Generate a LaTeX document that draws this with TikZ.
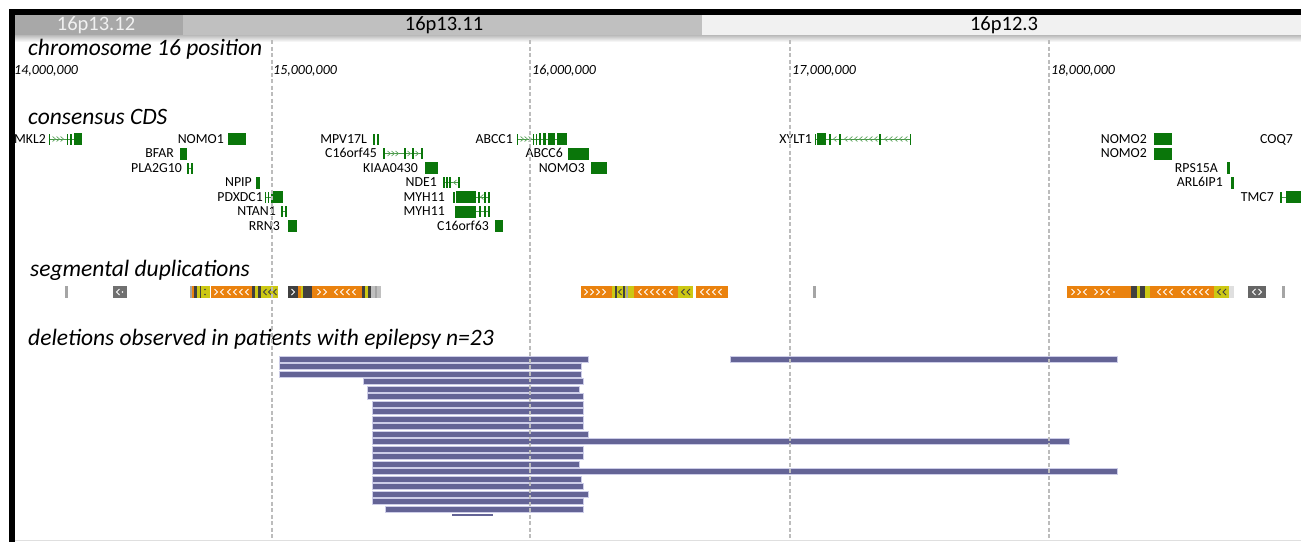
\documentclass[tikz,border=0pt]{standalone}
\usepackage{fontspec}
\setmainfont{Carlito}
\definecolor{gene}{RGB}{10,118,10}
\definecolor{sdor}{RGB}{234,130,14}
\definecolor{sdye}{RGB}{204,200,20}
\definecolor{sddk}{RGB}{64,64,64}
\definecolor{sdgr}{RGB}{165,165,165}
\definecolor{delf}{RGB}{100,100,150}
\definecolor{delo}{RGB}{205,205,232}
\definecolor{bandA}{RGB}{168,168,168}
\definecolor{bandB}{RGB}{192,192,192}
\definecolor{bandC}{RGB}{241,241,241}
\definecolor{gridc}{RGB}{188,188,188}
\newcommand\GB[3]{\fill[gene] (#1,#3-6) rectangle (#2,#3+6);}
\newcommand\GT[2]{\fill[gene] (#1-0.7,#2-5.5) rectangle (#1+0.7,#2+5.5);}
\newcommand\GL[3]{\draw[gene!75, line width=0.9] (#1,#3) -- (#2,#3);}
\newcommand\GC[3]{\draw[gene!65, line width=0.7] (#1-1.4*#3,#2-2.5) -- (#1+1.4*#3,#2) -- (#1-1.4*#3,#2+2.5);}
\newcommand\SD[3]{\fill[#3] (#1,286) rectangle (#2,298);}
\newcommand\SC[3]{\draw[#3, line width=0.8] (#1-1.5*#2,289) -- (#1+1.5*#2,292) -- (#1-1.5*#2,295);}
\newcommand\DL[3]{\draw[delbar] (#1,#3-3) rectangle (#2,#3+3);}
\begin{document}
\begin{tikzpicture}[x=1pt,y=-1pt,
  sect/.style={font=\fontsize{23.5}{23.5}\selectfont\itshape, anchor=base west, inner sep=0pt},
  axl/.style={font=\fontsize{14}{14}\selectfont\itshape, anchor=base west, inner sep=0pt},
  glbl/.style={font=\fontsize{13.8}{13.8}\selectfont, anchor=base east, inner sep=0pt},
  band/.style={font=\fontsize{20.5}{20.5}\selectfont, anchor=center, inner sep=0pt},
  delbar/.style={fill=delf, draw=delo, line width=0.6},
  gridline/.style={draw=gridc, line width=1.1, dash pattern=on 4pt off 2.5pt}]
\useasboundingbox (0,0) rectangle (1301,542);
\fill[white] (0,0) rectangle (1301,542);
% frame and band
\fill[bandA] (15,15) rectangle (183,35);
\fill[bandB] (183,15) rectangle (702,35);
\fill[bandC] (702,15) rectangle (1301,35);
\shade[top color=gray!55, bottom color=white] (15,35) rectangle (1301,42);
\fill[black] (9,9) rectangle (1301,15);
\fill[black] (9,9) rectangle (15,542);
\draw[gray!25, line width=1] (15,540.5) -- (1301,540.5);
\node[band, text=bandC] (b1) at (96,25) {16p13.12};
\node[band] (b2) at (444,25) {16p13.11};
\node[band] (b3) at (1004,25) {16p12.3};
% section titles
\node[sect] (t1) at (28,55) {chromosome 16 position};
\node[sect] (t2) at (28,124) {consensus CDS};
\node[sect] (t3) at (30,276) {segmental duplications};
\node[sect] (t4) at (28,345) {deletions observed in patients with epilepsy n=23};
% axis labels
\node[axl] (a14) at (14,74) {14,000,000};
\node[axl] (a15) at (273,74) {15,000,000};
\node[axl] (a16) at (532,74) {16,000,000};
\node[axl] (a17) at (792,74) {17,000,000};
\node[axl] (a18) at (1051,74) {18,000,000};
% ---- genes ----
\node[glbl] (gMKL2) at (46,143.3) {MKL2};
\GL{49}{74}{139}\GT{49.5}{139}\GC{54}{139}{1}\GC{58}{139}{1}\GC{62}{139}{1}\GT{67.5}{139}\GT{71}{139}\GB{74}{82}{139}
\node[glbl] (gNOMO1) at (224,143.3) {NOMO1};
\GB{228}{246}{139}
\node[glbl] (gBFAR) at (174,157.8) {BFAR};
\GB{180}{187}{153.5}
\node[glbl] (gPLA) at (182,172.3) {PLA2G10};
\GL{188}{192}{168}\GT{188}{168}\GT{192}{168}
\node[glbl] (gNPIP) at (252,186.8) {NPIP};
\GB{256}{260}{182.5}
\node[glbl] (gPDX) at (263,201.3) {PDXDC1};
\GL{265.5}{271}{197}\GT{265.5}{197}\GT{268.5}{197}\GB{271}{283}{197}
\node[glbl] (gNTAN) at (276,215.8) {NTAN1};
\GL{282}{286}{211.5}\GT{282}{211.5}\GT{286}{211.5}
\node[glbl] (gRRN) at (280,230.3) {RRN3};
\GB{288}{297}{226}
\node[glbl] (gMPV) at (367,143.3) {MPV17L};
\GT{374}{139}\GT{378}{139}
\node[glbl] (gC45) at (377,157.8) {C16orf45};
\GL{383}{423}{153.5}\GT{384}{153.5}\GC{389}{153.5}{1}\GC{393}{153.5}{1}\GC{397}{153.5}{1}\GT{405}{153.5}\GC{409}{153.5}{1}\GT{413}{153.5}\GC{417}{153.5}{1}\GT{422}{153.5}
\node[glbl] (gKIAA) at (418,172.3) {KIAA0430};
\GB{425}{438}{168}
\node[glbl] (gNDE) at (437,186.8) {NDE1};
\GL{443}{460}{182.5}\GT{444}{182.5}\GT{447}{182.5}\GT{450}{182.5}\GC{455}{182.5}{-1}\GT{459}{182.5}
\node[glbl] (gMYH1) at (445,201.3) {MYH11};
\GT{454}{197}\GB{456}{476}{197}\GL{476}{490}{197}\GT{479}{197}\GC{482}{197}{-1}\GT{485}{197}\GT{489}{197}
\node[glbl] (gMYH2) at (445,215.8) {MYH11};
\GB{455}{476}{211.5}\GL{476}{490}{211.5}\GT{480}{211.5}\GT{485}{211.5}\GT{489}{211.5}
\node[glbl] (gC63) at (489,230.3) {C16orf63};
\GB{495}{503}{226}
\node[glbl] (gABCC1) at (513,143.3) {ABCC1};
\GL{517}{567}{139}\GT{517.5}{139}\GC{522}{139}{1}\GC{526}{139}{1}\GC{530}{139}{1}\GT{533.5}{139}\GT{536.5}{139}\GB{539}{541}{139}\GB{543}{546}{139}\GB{548}{555}{139}\GB{557}{567}{139}
\node[glbl] (gABCC6) at (563,157.8) {ABCC6};
\GB{568}{589}{153.5}
\node[glbl] (gNOMO3) at (585,172.3) {NOMO3};
\GB{591}{607}{168}
\node[glbl] (gXYLT) at (812,143.3) {XYLT1};
\GL{815}{911}{139}\GT{815.5}{139}\GB{817}{826}{139}\GT{830}{139}\GT{840}{139}\GT{880}{139}\GT{910.5}{139}
\foreach \c in {835,846,851,856,861,866,871,876,886,891,896,901,906}{\GC{\c}{139}{-1}}
\node[glbl] (gNOMO2a) at (1147,143.3) {NOMO2};
\GB{1154}{1172}{139}
\node[glbl] (gNOMO2b) at (1147,157.8) {NOMO2};
\GB{1154}{1172}{153.5}
\node[glbl] (gRPS) at (1218,172.3) {RPS15A};
\GB{1227}{1230}{168}
\node[glbl] (gARL) at (1223,186.8) {ARL6IP1};
\GB{1231}{1233.5}{182.5}
\node[glbl] (gTMC) at (1274,201.3) {TMC7};
\GL{1281}{1286}{197}\GT{1281}{197}\GB{1286}{1301}{197}
\node[glbl] (gCOQ) at (1293,143.3) {COQ7};
% ---- segmental duplications ----
\SD{65}{67.5}{sdgr}
\SD{113}{127}{sddk!75}\SC{118}{-1}{white}\fill[white] (122.5,292) circle (0.9);
\SD{190}{192}{sdgr}\SD{192}{194}{sdor}\SD{194}{196.5}{sddk}
\SD{196.5}{210}{sdye}\SD{199.5}{201}{sddk}\fill[sddk] (205,289.5) circle (0.9) (205,294.5) circle (0.9);
\SD{211}{252}{sdor}\SC{216}{1}{white}\SC{222}{-1}{white}\SC{229}{-1}{white}\SC{235}{-1}{white}\SC{241}{-1}{white}\SC{247}{-1}{white}
\SD{252}{255}{sddk}\SD{255}{258}{sdye}\SD{258}{261}{sddk}
\SD{261}{278}{sdye}\SC{265}{-1}{sddk}\SC{270}{-1}{sddk}\SC{275}{-1}{sddk}
\SD{288}{298}{sddk}\SC{293}{1}{white}
\SD{298}{301}{sdor}\SD{301}{303}{sdye}\SD{303}{312}{sddk}
\SD{312}{362}{sdor}\SC{319}{1}{white}\SC{325}{1}{white}\SC{336}{-1}{white}\SC{342}{-1}{white}\SC{348}{-1}{white}\SC{354}{-1}{white}
\SD{362}{365}{sddk}\SD{365}{368}{sdye}\SD{368}{371}{sddk}\SD{371}{381}{sdgr!70}\SD{375}{376.5}{sdgr}
\SD{581}{612}{sdor}\SC{586}{1}{white}\SC{592}{1}{white}\SC{598}{1}{white}\SC{604}{1}{white}
\SD{612}{626}{sdye}\SD{615}{616.5}{sddk}\SC{620}{-1}{sddk}\SD{623}{624.5}{sddk}
\SD{626}{628}{sdgr}\SD{628}{634}{sdye}
\SD{634}{678}{sdor}\SC{640}{-1}{white}\SC{646}{-1}{white}\SC{652}{-1}{white}\SC{658}{-1}{white}\SC{664}{-1}{white}\SC{671}{-1}{white}
\SD{678}{693}{sdye}\SC{683}{-1}{sddk}\SC{688.5}{-1}{sddk}
\SD{696}{728}{sdor}\SC{702}{-1}{white}\SC{708}{-1}{white}\SC{714}{-1}{white}\SC{720}{-1}{white}
\SD{813}{815.5}{sdgr}
\SD{1067}{1131}{sdor}\SC{1073}{1}{white}\SC{1079}{1}{white}\SC{1085}{-1}{white}\SC{1096}{1}{white}\SC{1102}{1}{white}\SC{1108}{-1}{white}\fill[white] (1114,292) circle (0.9);
\SD{1131}{1137}{sddk}\SD{1137}{1140}{sdye}\SD{1140}{1145}{sddk}\SD{1145}{1150}{sdye}
\SD{1150}{1214}{sdor}\SC{1159}{-1}{white}\SC{1165}{-1}{white}\SC{1171}{-1}{white}\SC{1183}{-1}{white}\SC{1189}{-1}{white}\SC{1195}{-1}{white}\SC{1201}{-1}{white}\SC{1207}{-1}{white}
\SD{1214}{1229}{sdye}\SC{1219}{-1}{sddk}\SC{1224.5}{-1}{sddk}
\SD{1229}{1234}{sdgr!35}
\SD{1248}{1266}{sddk!80}\SC{1254}{-1}{white}\SC{1260}{1}{white}
\SD{1282}{1284.5}{sdgr}
% ---- deletions ----
\DL{279}{588}{359}\DL{730}{1117}{359}
\DL{279}{581}{366.5}
\DL{279}{581}{374}
\DL{363}{583}{381.5}
\DL{367}{579}{389}
\DL{367}{583}{396.5}
\DL{372}{583}{404}
\DL{372}{583}{411.5}
\DL{372}{583}{419}
\DL{372}{583}{426.5}
\DL{372}{588}{434}
\DL{372}{1069}{441.5}
\DL{372}{583}{449}
\DL{372}{583}{456.5}
\DL{372}{579}{464}
\DL{372}{1117}{471.5}
\DL{372}{581}{479}
\DL{372}{583}{486.5}
\DL{372}{588}{494}
\DL{372}{583}{501.5}
\DL{385}{583}{509}
\fill[delf] (452,514) rectangle (493,515.8);
% ---- grid lines ----
\foreach \gx in {272,530,790,1049}{\draw[gridline] (\gx,40) -- (\gx,540);}
\end{tikzpicture}
\end{document}
